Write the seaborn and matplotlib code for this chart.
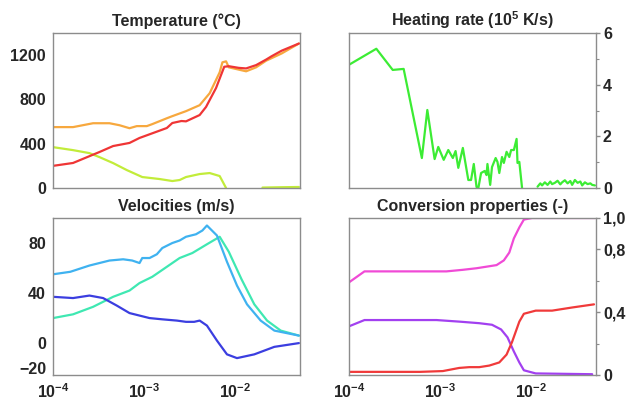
import numpy as np
import seaborn as sns
import matplotlib.pyplot as plt
from matplotlib.ticker import FixedLocator, LogLocator, FuncFormatter, NullFormatter

# values; x is stored as log10(time)
temp_red_x = [-4.00, -3.78, -3.49, -3.34, -3.16, -3.05, -2.75, -2.69, -2.59, -2.54, -2.39, -2.32,
              -2.21, -2.12, -2.07, -1.96, -1.88, -1.77, -1.66, -1.60, -1.49, -1.30]
temp_red_y = [200, 226, 325, 379, 407, 452, 542, 587, 605, 602, 659, 732,
              903, 1095, 1100, 1085, 1080, 1110, 1160, 1190, 1240, 1305]
temp_orange_x = [-4.00, -3.78, -3.56, -3.38, -3.27, -3.16, -3.08, -2.97, -2.91, -2.75, -2.69, -2.54,
                 -2.39, -2.28, -2.17, -2.14, -2.10, -2.07, -1.88, -1.77, -1.66, -1.49, -1.30]
temp_orange_y = [550, 550, 585, 585, 567, 540, 559, 559, 577, 630, 649, 694,
                 748, 856, 1045, 1135, 1144, 1090, 1054, 1090, 1150, 1215, 1305]
temp_lime_x = [-4.00, -3.78, -3.60, -3.49, -3.34, -3.19, -3.02, -2.83, -2.69, -2.61, -2.54, -2.39,
               -2.28, -2.17, -2.10]
temp_lime_y = [369, 342, 315, 279, 225, 162, 99, 81, 63, 72, 99, 126, 135, 108, 0]
temp_lime_tail_x = [-1.70, -1.49, -1.30]
temp_lime_tail_y = [4, 7, 9]

heat_x = [-4.00, -3.70, -3.52, -3.40, -3.20, -3.14, -3.06, -3.02, -2.96, -2.91, -2.86, -2.83,
          -2.80, -2.75, -2.69, -2.66, -2.63, -2.60, -2.58, -2.55, -2.51, -2.49, -2.48, -2.45,
          -2.43, -2.39, -2.37, -2.35, -2.32, -2.30, -2.27, -2.24, -2.22, -2.19, -2.16, -2.15,
          -2.13, -2.10]
heat_y = [4.77, 5.39, 4.57, 4.61, 1.16, 3.02, 1.12, 1.59, 1.09, 1.47, 1.16, 1.43,
          0.78, 1.55, 0.31, 0.31, 0.93, 0.04, 0.0, 0.58, 0.66, 0.50, 0.93, 0.12,
          0.81, 1.16, 1.01, 0.58, 1.20, 0.97, 1.40, 1.20, 1.47, 1.47, 1.90, 0.97,
          1.01, 0.0]
heat_tail_x = [-1.93, -1.90, -1.88, -1.85, -1.82, -1.79, -1.77, -1.74, -1.71, -1.68, -1.66, -1.63,
               -1.60, -1.57, -1.55, -1.52, -1.49, -1.46, -1.44, -1.41, -1.38, -1.35, -1.33, -1.30]
heat_tail_y = [0.05, 0.18, 0.10, 0.22, 0.12, 0.25, 0.15, 0.20, 0.28, 0.14, 0.22, 0.30,
               0.18, 0.27, 0.12, 0.31, 0.20, 0.25, 0.10, 0.22, 0.15, 0.18, 0.12, 0.10]

vel_sky_x = [-4.00, -3.81, -3.60, -3.38, -3.23, -3.13, -3.05, -3.02, -2.94, -2.86, -2.80, -2.69,
             -2.61, -2.54, -2.43, -2.36, -2.31, -2.20, -2.09, -1.98, -1.87, -1.72, -1.57, -1.30]
vel_sky_y = [55, 57, 62, 66, 67, 66, 64, 68, 68, 71, 76, 80,
             82, 85, 87, 90, 94, 86, 65, 46, 31, 18, 10, 6]
vel_aqua_x = [-4.00, -3.78, -3.56, -3.34, -3.16, -3.05, -2.91, -2.75, -2.61, -2.47, -2.31, -2.17,
              -2.07, -1.93, -1.79, -1.65, -1.50, -1.30]
vel_aqua_y = [20, 23, 29, 37, 42, 48, 53, 61, 68, 72, 79, 85, 73, 51, 31, 18, 10, 6]
vel_blue_x = [-4.00, -3.78, -3.60, -3.45, -3.30, -3.16, -3.05, -2.94, -2.80, -2.64, -2.54, -2.45,
              -2.39, -2.31, -2.20, -2.09, -1.98, -1.79, -1.57, -1.30]
vel_blue_y = [37, 36, 38, 36, 30, 24, 22, 20, 19, 18, 17, 17, 18, 14, 2, -9, -12, -9, -3, 0]

conv_mag_x = [-4.00, -3.83, -3.22, -2.93, -2.75, -2.60, -2.49, -2.38, -2.30, -2.24, -2.19, -2.13,
              -2.08, -1.99, -1.30]
conv_mag_y = [0.59, 0.66, 0.66, 0.66, 0.67, 0.68, 0.69, 0.70, 0.73, 0.78, 0.87, 0.94, 0.99, 1.0, 1.0]
conv_pur_x = [-4.00, -3.83, -3.04, -2.79, -2.57, -2.43, -2.33, -2.26, -2.19, -2.13, -2.08, -1.95, -1.33]
conv_pur_y = [0.31, 0.35, 0.35, 0.34, 0.33, 0.32, 0.29, 0.24, 0.15, 0.08, 0.03, 0.01, 0.005]
conv_red_x = [-4.00, -3.22, -2.97, -2.79, -2.68, -2.57, -2.46, -2.35, -2.27, -2.21, -2.13, -2.08,
              -1.95, -1.77, -1.55, -1.31]
conv_red_y = [0.02, 0.02, 0.025, 0.045, 0.05, 0.05, 0.06, 0.08, 0.13, 0.21, 0.34, 0.39,
              0.41, 0.41, 0.43, 0.45]

sns.set_style("white")
plt.rcParams['font.family'] = ['Liberation Sans', 'DejaVu Sans']
plt.rcParams['font.weight'] = 'bold'
plt.rcParams['mathtext.fontset'] = 'custom'
plt.rcParams['mathtext.rm'] = 'Liberation Sans:bold'
plt.rcParams['mathtext.bf'] = 'Liberation Sans:bold'

W, H = 630, 400
fig = plt.figure(figsize=(6.3, 4.0), dpi=100)


def make_ax(l, r, t, b):
    return fig.add_axes([l / W, (H - b) / H, (r - l) / W, (b - t) / H])


ax_t = make_ax(53, 300, 33, 188)
ax_h = make_ax(349, 596, 33, 188)
ax_v = make_ax(53, 300, 218, 375)
ax_c = make_ax(349, 596, 218, 375)

lw = 1.6


def draw(ax, xs, ys, color):
    sns.lineplot(x=np.power(10.0, xs), y=ys, ax=ax, color=color, linewidth=lw, sort=False)


draw(ax_t, temp_lime_x, temp_lime_y, '#c2ec3a')
draw(ax_t, temp_lime_tail_x, temp_lime_tail_y, '#c2ec3a')
draw(ax_t, temp_orange_x, temp_orange_y, '#f7a83e')
draw(ax_t, temp_red_x, temp_red_y, '#ef3535')

draw(ax_h, heat_x, heat_y, '#3cec34')
draw(ax_h, heat_tail_x, heat_tail_y, '#3cec34')

draw(ax_v, vel_aqua_x, vel_aqua_y, '#3fe8b2')
draw(ax_v, vel_sky_x, vel_sky_y, '#3fb2f0')
draw(ax_v, vel_blue_x, vel_blue_y, '#3b3ee0')

draw(ax_c, conv_mag_x, conv_mag_y, '#f04ad6')
draw(ax_c, conv_pur_x, conv_pur_y, '#a240f0')
draw(ax_c, conv_red_x, conv_red_y, '#f03a3a')

titles = ['Temperature (°C)', r'Heating rate (10$^{5}$ K/s)', 'Velocities (m/s)', 'Conversion properties (-)']
for ax, title in zip([ax_t, ax_h, ax_v, ax_c], titles):
    ax.set_xscale('log')
    ax.set_xlim(1e-4, 0.0515)
    ax.set_title(title, fontsize=11.5, fontweight='bold', pad=5)
    ax.set_xlabel('')
    ax.set_ylabel('')
    for s in ax.spines.values():
        s.set_visible(True)
        s.set_color('#8c8c8c')
        s.set_linewidth(1.0)
    ax.xaxis.set_major_locator(FixedLocator([1e-4, 1e-3, 1e-2]))
    ax.xaxis.set_minor_locator(LogLocator(base=10, subs=np.arange(2, 10)))
    ax.xaxis.set_minor_formatter(NullFormatter())
    ax.tick_params(axis='both', which='both', direction='out', color='#8c8c8c',
                   labelsize=11.5, pad=2)
    ax.tick_params(which='major', length=3, width=1)
    ax.tick_params(which='minor', length=2, width=0.8)
    ax.yaxis.set_minor_formatter(NullFormatter())

for ax in [ax_t, ax_h]:
    ax.xaxis.set_major_formatter(NullFormatter())
for ax in [ax_v, ax_c]:
    ax.xaxis.set_major_formatter(FuncFormatter(lambda v, p: r'$\mathbf{10^{%d}}$' % round(np.log10(v))))

ax_t.set_ylim(0, 1400)
ax_t.yaxis.set_major_locator(FixedLocator([0, 400, 800, 1200]))
ax_t.yaxis.set_minor_locator(FixedLocator([200, 600, 1000, 1400]))

ax_h.set_ylim(0, 6)
ax_h.yaxis.tick_right()
ax_h.yaxis.set_major_locator(FixedLocator([0, 2, 4, 6]))
ax_h.yaxis.set_minor_locator(FixedLocator([1, 3, 5]))

ax_v.set_ylim(-25.5, 100)
ax_v.yaxis.set_major_locator(FixedLocator([-20, 0, 40, 80]))
ax_v.yaxis.set_minor_locator(FixedLocator([20, 60, 100]))

ax_c.set_ylim(0, 1.0)
ax_c.yaxis.tick_right()
ax_c.yaxis.set_major_locator(FixedLocator([0, 0.4, 0.8, 1.0]))
ax_c.yaxis.set_minor_locator(FixedLocator([0.2, 0.6]))
ax_c.yaxis.set_major_formatter(FuncFormatter(lambda v, p: '0' if v == 0 else ('%.1f' % v).replace('.', ',')))

for ax in [ax_t, ax_h, ax_v, ax_c]:
    for lab in ax.get_xticklabels() + ax.get_yticklabels():
        lab.set_fontweight('bold')

fig.savefig('out.png', dpi=100)
